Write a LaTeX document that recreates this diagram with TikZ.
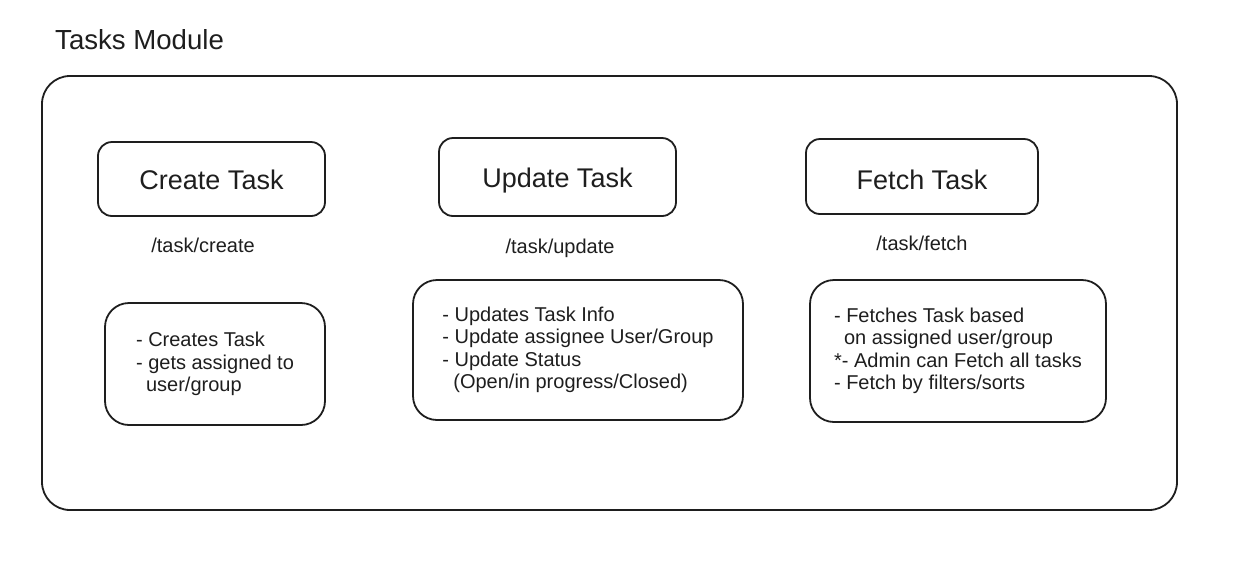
\documentclass[tikz,border=0pt]{standalone}
\usepackage{fontspec}
\setmainfont{Liberation Sans}
\definecolor{ink}{HTML}{1E1E1E}
\begin{document}
\begin{tikzpicture}[x=1pt,y=-1pt,
  every node/.style={text=ink},
  box/.style={draw=ink, line width=1.8pt, rounded corners=14pt, inner sep=0pt, align=center},
  headbox/.style={box, font=\fontsize{27}{32}\selectfont, text depth=0pt},
  detail/.style={box, rounded corners=24pt, align=left, font=\fontsize{20}{22.5}\selectfont},
  route/.style={font=\fontsize{20}{24}\selectfont},
]
\useasboundingbox (0,0) rectangle (1240,579);
\node[draw=ink, line width=1.8pt, rounded corners=28pt, minimum width=1135pt, minimum height=434pt, inner sep=0pt] (module) at (609.5,293) {};
\node[anchor=west, inner sep=0pt, font=\fontsize{27.6}{32}\selectfont] (title) at (55,40) {Tasks Module};

\node[headbox, text height=21.3pt, minimum width=227pt, minimum height=74pt] (create) at (211.5,179) {Create Task};
\node[headbox, text height=21.3pt, minimum width=237pt, minimum height=78pt] (update) at (557.5,177) {Update Task};
\node[headbox, text height=26.3pt, minimum width=232pt, minimum height=75pt] (fetch) at (922,176.5) {Fetch Task};

\node[route] (rcreate) at (203,245) {/task/create};
\node[route] (rupdate) at (560,248) {/task/update};
\node[route] (rfetch) at (922,243) {/task/fetch};

\node[detail, minimum width=220pt, minimum height=122pt] (dcreate) at (215,364)
  {- Creates Task\\- gets assigned to\\\hspace*{0.5em}user/group};
\node[detail, minimum width=330pt, minimum height=140pt] (dupdate) at (578,350)
  {- Updates Task Info\\- Update assignee User/Group\\- Update Status\\\hspace*{0.55em}(Open/in progress/Closed)};
\node[detail, minimum width=296pt, minimum height=142pt] (dfetch) at (958,351)
  {- Fetches Task based\\\hspace*{0.5em}on assigned user/group\\*- Admin can Fetch all tasks\\- Fetch by filters/sorts};
\end{tikzpicture}
\end{document}
